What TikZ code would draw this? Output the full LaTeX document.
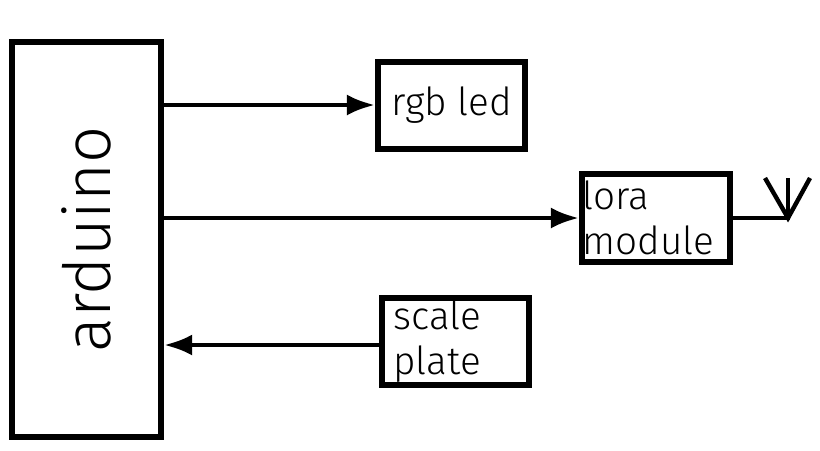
\documentclass[tikz,border=0pt]{standalone}
\usepackage{fontspec}
\setmainfont{Fira Sans Light}
\usetikzlibrary{positioning}
\usetikzlibrary{arrows.meta}
\tikzset{
  blockbox/.style={draw,line width=3.5pt,inner sep=0pt},
  link/.style={line width=2.5pt,-{Latex[length=16pt,width=12pt]}},
}
\begin{document}
\begin{tikzpicture}[x=0.02cm,y=-0.02cm]
      \useasboundingbox (0,0) rectangle (820,450);
      \node[blockbox,minimum width=149*0.02cm,minimum height=395*0.02cm] (arduino) at (86.5,239.5) {};
      \node[rotate=90,font=\fontsize{37}{40}\selectfont] at (arduino.center) {arduino};
      \node[blockbox,minimum width=147*0.02cm,minimum height=87*0.02cm] (rgb) at (451.5,105.5) {};
      \node[font=\fontsize{22}{26}\selectfont] at (rgb.center) {rgb led};
      \node[blockbox,minimum width=148*0.02cm,minimum height=88*0.02cm] (lora) at (656,218) {};
      \node[font=\fontsize{22}{26}\selectfont,anchor=west,align=left,inner sep=2pt] at (lora.west) {lora\\module};
      \node[blockbox,minimum width=147*0.02cm,minimum height=87*0.02cm] (scale) at (455.5,341.5) {};
      \node[font=\fontsize{22}{26}\selectfont,anchor=west,align=left,inner sep=2pt] at ([xshift=6pt] scale.west) {scale\\plate};
      \draw[link] (arduino.east|-0,105) -- (rgb.west|-0,105);
      \draw[link] (arduino.east|-lora.west) -- (lora.west);
      \draw[link] (scale.west|-0,345) -- (arduino.east|-0,345);
      % antenna
      \coordinate (ant) at (788,218);
      \draw[line width=2.5pt] (lora.east) -- (ant) -- ++(0,-40);
      \draw[line width=2.5pt] (765,178) -- (ant) -- (810,178);
\end{tikzpicture}
\end{document}
